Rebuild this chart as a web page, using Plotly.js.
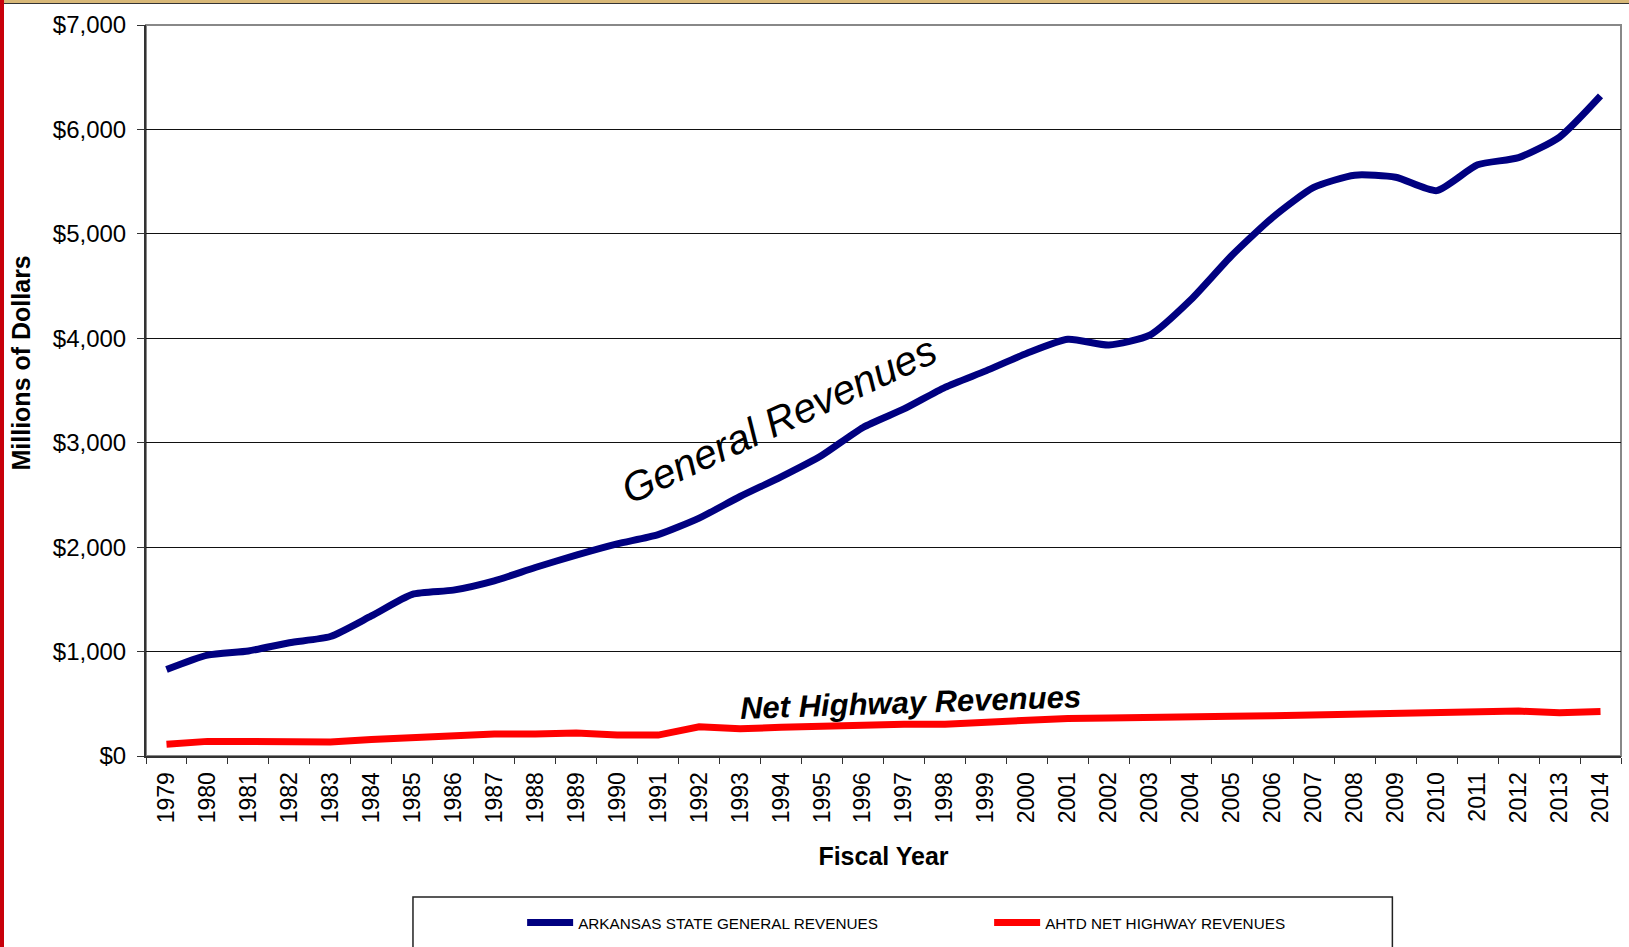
<!DOCTYPE html>
<html>
<head>
<meta charset="utf-8">
<script src="https://cdn.plot.ly/plotly-3.0.1.min.js"></script>
<style>
  body { margin: 0; background: #fff; }
  #myDiv { position: absolute; left: 0; top: 0; }
  #edgeLeft { position: absolute; left: 0; top: 0; width: 4px; height: 947px; background: #c8000a; z-index: 5; }
  #edgeTop { position: absolute; left: 0; top: 0; width: 1629px; height: 3px; background: #d8b878; border-bottom: 1px solid #333; z-index: 4; }
</style>
</head>
<body>
<div id="myDiv"></div>
<div id="edgeTop"></div>
<div id="edgeLeft"></div>
<script>
var divId = "myDiv";

var years = ["1979", "1980", "1981", "1982", "1983", "1984", "1985", "1986", "1987", "1988",
  "1989", "1990", "1991", "1992", "1993", "1994", "1995", "1996", "1997", "1998",
  "1999", "2000", "2001", "2002", "2003", "2004", "2005", "2006", "2007", "2008",
  "2009", "2010", "2011", "2012", "2013", "2014"];

// millions of dollars
var generalRevenues = [828, 966, 1006, 1085, 1144, 1341, 1548, 1588, 1677, 1805,
  1923, 2031, 2120, 2278, 2485, 2673, 2880, 3146, 3323, 3530,
  3688, 3856, 3990, 3935, 4030, 4369, 4793, 5158, 5444, 5562,
  5542, 5414, 5661, 5730, 5927, 6321];

var highwayRevenues = [112, 140, 138, 135, 135, 158, 175, 200, 210, 210,
  220, 200, 200, 280, 260, 275, 290, 295, 305, 305,
  325, 355, 360, 365, 375, 375, 380, 385, 395, 400,
  400, 420, 430, 430, 415, 425];

var yTicks = [0, 1000, 2000, 3000, 4000, 5000, 6000, 7000];
var yTickText = ["$0", "$1,000", "$2,000", "$3,000", "$4,000", "$5,000", "$6,000", "$7,000"];

var data = [
  {
    name: "ARKANSAS STATE GENERAL REVENUES",
    x: years,
    y: generalRevenues,
    type: "scatter",
    mode: "lines",
    line: { color: "#000080", width: 7, shape: "spline", smoothing: 0.6 },
  },
  {
    name: "AHTD NET HIGHWAY REVENUES",
    x: years,
    y: highwayRevenues,
    type: "scatter",
    mode: "lines",
    line: { color: "#ff0000", width: 7 },
  },
];

var layout = {
  width: 1629,
  height: 947,
  margin: { l: 146, r: 8, t: 25, b: 185, pad: 0 },
  paper_bgcolor: "#fff",
  plot_bgcolor: "#fff",
  font: { family: "Liberation Sans, Arial, sans-serif", color: "#000" },
  xaxis: {
    type: "category",
    range: [-0.5, 35.5],
    tickangle: -90,
    ticks: "outside",
    tickson: "boundaries",
    ticklen: 6,
    tickcolor: "#333",
    tickfont: { size: 23 },
    ticklabelstandoff: 5,
    showgrid: false,
    showline: true,
    linecolor: "#333",
    linewidth: 2,
    title: { text: "Fiscal Year", font: { size: 25, weight: "bold" }, standoff: 25 },
  },
  yaxis: {
    range: [0, 7000],
    tickmode: "array",
    tickvals: yTicks,
    ticktext: yTickText,
    ticks: "outside",
    ticklen: 7,
    tickcolor: "#333",
    tickfont: { size: 24 },
    ticklabelstandoff: 6,
    showgrid: true,
    gridcolor: "#111",
    gridwidth: 1,
    zeroline: false,
    showline: true,
    linecolor: "#333",
    linewidth: 2,
  },
  shapes: [
    {
      type: "rect", xref: "paper", yref: "paper",
      x0: 0, x1: 1, y0: 0, y1: 1,
      line: { color: "#888", width: 2 },
      layer: "below",
    },
    {
      type: "rect", xref: "paper", yref: "paper",
      x0: 0.181, x1: 0.845, y0: -0.193, y1: -0.32,
      line: { color: "#222", width: 1.5 },
      fillcolor: "rgba(0,0,0,0)",
    },
  ],
  annotations: [
    {
      text: "Millions of Dollars",
      xref: "paper", yref: "paper",
      x: -0.0847, y: 0.537,
      xanchor: "center", yanchor: "middle",
      showarrow: false,
      textangle: -90,
      font: { size: 25, weight: "bold", color: "#000" },
    },
    {
      text: "General Revenues",
      xref: "paper", yref: "paper",
      x: 0.429, y: 0.46,
      xanchor: "center", yanchor: "middle",
      showarrow: false,
      textangle: -25,
      font: { size: 41, style: "italic", color: "#000" },
    },
    {
      text: "Net Highway Revenues",
      xref: "paper", yref: "paper",
      x: 0.518, y: 0.073,
      xanchor: "center", yanchor: "middle",
      showarrow: false,
      textangle: -2,
      font: { size: 31, weight: "bold", style: "italic", color: "#000" },
    },
  ],
  showlegend: true,
  legend: {
    orientation: "h",
    x: 0.255,
    xanchor: "left",
    y: -0.228,
    yanchor: "middle",
    bgcolor: "rgba(0,0,0,0)",
    borderwidth: 0,
    entrywidth: 406,
    itemwidth: 46,
    font: { size: 15.3, color: "#000" },
  },
};

var display = {
  displayModeBar: false,
};

Plotly.newPlot(divId, data, layout, display);
</script>
</body>
</html>
